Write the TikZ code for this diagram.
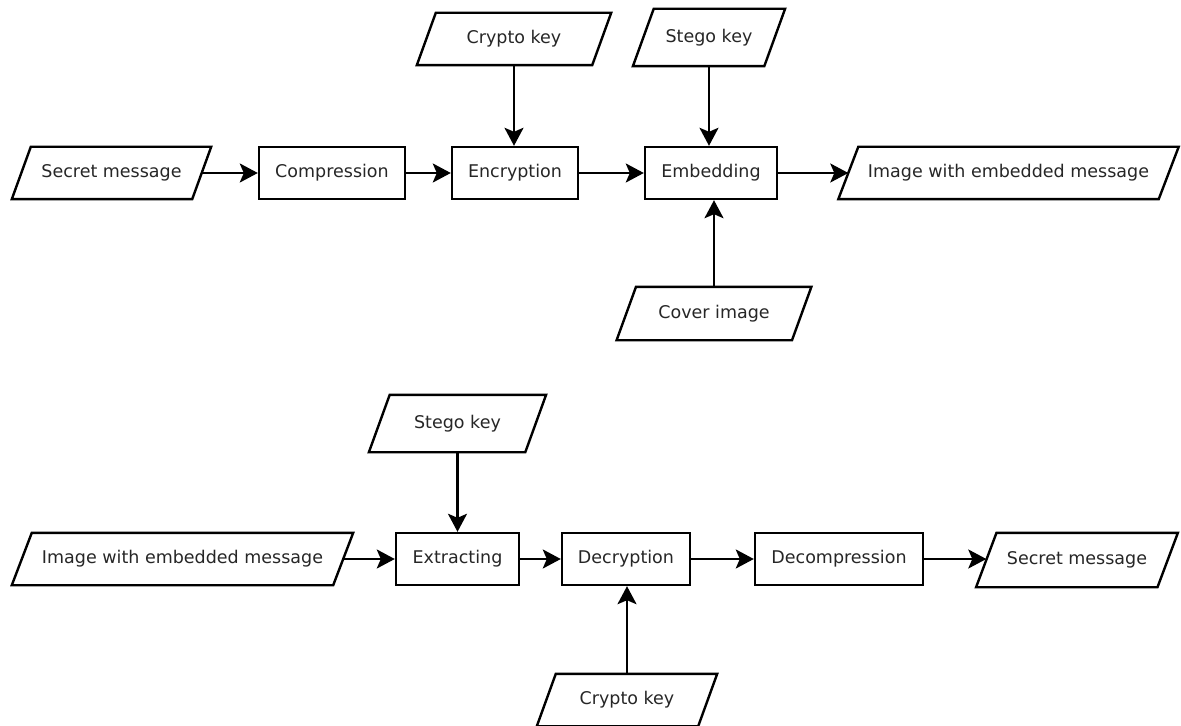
\documentclass[tikz,border=0pt]{standalone}
\usepackage{fontspec}
\setmainfont{DejaVu Sans}
\usetikzlibrary{arrows.meta}
\newcommand{\iobox}[2]{%
  \draw[line width=2.4bp, line join=miter]
    ([xshift=#2]#1.north west) -- ([xshift=#2]#1.north east) --
    ([xshift=-#2]#1.south east) -- ([xshift=-#2]#1.south west) -- cycle;}
\begin{document}
\begin{tikzpicture}[x=1bp,y=-1bp,
  every node/.style={font=\fontsize{17.5bp}{21bp}\selectfont, text=black!85, inner sep=0pt},
  proc/.style={rectangle, draw=black, line width=2.4bp, minimum height=52bp},
  io/.style={rectangle, draw=none, minimum height=52bp},
  flow/.style={line width=2.4bp, -{Stealth[length=18bp,width=19bp,inset=4bp]}}]
\useasboundingbox (0,0) rectangle (1181,726);
% top row
\node[io, minimum width=180bp] (sm1) at (111.5,173) {Secret message};
\node[proc, minimum width=146bp] (comp) at (332,173) {Compression};
\node[proc, minimum width=126bp] (enc) at (515,173) {Encryption};
\node[proc, minimum width=132bp] (emb) at (711,173) {Embedding};
\node[io, minimum width=320bp] (img1) at (1008.5,173) {Image with embedded message};
\node[io, minimum width=175bp] (ck1) at (514,39) {Crypto key};
\node[io, minimum width=131bp, minimum height=57bp] (sk1) at (709,37.5) {Stego key};
\node[io, minimum width=175bp, minimum height=53bp] (cov) at (714,313.5) {Cover image};
% bottom row
\node[io, minimum width=321bp] (img2) at (182.5,559) {Image with embedded message};
\node[proc, minimum width=123bp] (ext) at (457.5,559) {Extracting};
\node[proc, minimum width=128bp] (dec) at (626,559) {Decryption};
\node[proc, minimum width=168bp] (decomp) at (839,559) {Decompression};
\node[io, minimum width=181bp, minimum height=54bp] (sm2) at (1077,560) {Secret message};
\node[io, minimum width=156bp, minimum height=57bp] (sk2) at (457.5,423.5) {Stego key};
\node[io, minimum width=161bp] (ck2) at (627,700) {Crypto key};
% parallelogram outlines
\iobox{sm1}{9.5bp}
\iobox{img1}{10bp}
\iobox{ck1}{9.5bp}
\iobox{sk1}{10.4bp}
\iobox{cov}{9.7bp}
\iobox{img2}{10bp}
\iobox{sm2}{10.2bp}
\iobox{sk2}{10.4bp}
\iobox{ck2}{9.5bp}
% connectors top
\draw[flow] (sm1) -- (comp);
\draw[flow] (comp) -- (enc);
\draw[flow] (enc) -- (emb);
\draw[flow] (emb) -- (img1);
\draw[flow] (ck1.south) -- (ck1.south |- enc.north);
\draw[flow] (sk1.south) -- (sk1.south |- emb.north);
\draw[flow] (cov.north) -- (cov.north |- emb.south);
% connectors bottom
\draw[flow] (img2) -- (ext);
\draw[flow] (ext) -- (dec);
\draw[flow] (dec) -- (decomp);
\draw[flow] (decomp) -- (sm2.west |- decomp.east);
\draw[flow] (sk2.south) -- (sk2.south |- ext.north);
\draw[flow] (ck2.north) -- (ck2.north |- dec.south);
\end{tikzpicture}
\end{document}
